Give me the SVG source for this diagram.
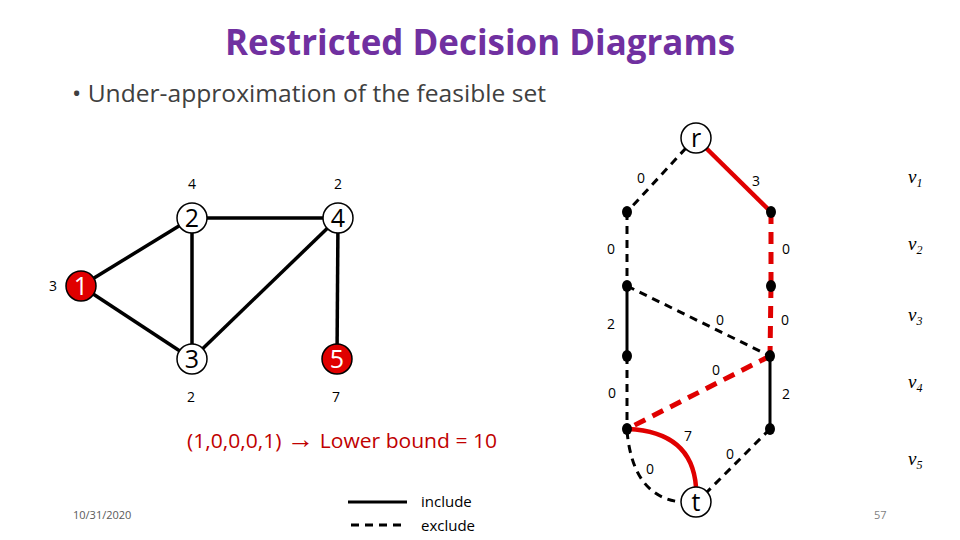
<svg xmlns="http://www.w3.org/2000/svg" width="960" height="540" viewBox="0 0 960 540">
<style>
.t{font-family:"Open Sans","Liberation Sans",sans-serif}
.lbl{font-family:"Open Sans","Liberation Sans",sans-serif;font-size:14px;fill:#000;text-anchor:middle}
.nd{fill:#fff;stroke:#000;stroke-width:1.5}
.nr{fill:#e00000;stroke:#000;stroke-width:1.5}
.nt{font-family:"Open Sans","Liberation Sans",sans-serif;font-size:25px;text-anchor:middle}
.e{stroke:#000;stroke-width:3.5;fill:none}
.sb{stroke:#000;stroke-width:3;fill:none}
.db{stroke:#000;stroke-width:3;fill:none;stroke-dasharray:8 6}
.sr{stroke:#e00000;stroke-width:4.5;fill:none}
.dr{stroke:#e00000;stroke-width:5;fill:none;stroke-dasharray:12 8}
.dot{fill:#000}
.lv{font-family:"Liberation Serif",serif;font-style:italic;font-size:19px}
</style>
<rect width="960" height="540" fill="#fff"/>
<text x="480" y="55" class="t" font-size="36" font-weight="bold" fill="#7030A0" text-anchor="middle" textLength="510" lengthAdjust="spacingAndGlyphs">Restricted Decision Diagrams</text>
<text x="72" y="102" class="t" font-size="23" fill="#404040" textLength="474" lengthAdjust="spacingAndGlyphs">• Under-approximation of the feasible set</text>

<g id="graph-edges">
<line class="e" x1="81" y1="286" x2="192" y2="218"/>
<line class="e" x1="81" y1="286" x2="192" y2="359"/>
<line class="e" x1="192" y1="218" x2="338" y2="218"/>
<line class="e" x1="192" y1="218" x2="192" y2="359"/>
<line class="e" x1="338" y1="218" x2="192" y2="359"/>
<line class="e" x1="338" y1="218" x2="337" y2="359"/>
</g>
<g id="g1"><circle class="nr" cx="81" cy="286" r="15"/><text x="81" y="295" class="nt" fill="#fff">1</text><text x="53" y="291" class="lbl">3</text></g>
<g id="g2"><circle class="nd" cx="192" cy="218" r="15"/><text x="192" y="227" class="nt">2</text><text x="192" y="189" class="lbl">4</text></g>
<g id="g3"><circle class="nd" cx="192" cy="359" r="15"/><text x="192" y="368" class="nt">3</text><text x="191" y="402" class="lbl">2</text></g>
<g id="g4"><circle class="nd" cx="338" cy="218" r="15"/><text x="338" y="227" class="nt">4</text><text x="338" y="189" class="lbl">2</text></g>
<g id="g5"><circle class="nr" cx="337" cy="359" r="15"/><text x="337" y="368" class="nt" fill="#fff">5</text><text x="336" y="402" class="lbl">7</text></g>

<text x="187" y="448" class="t" font-size="20" fill="#C00000" textLength="310" lengthAdjust="spacingAndGlyphs">(1,0,0,0,1) <tspan font-size="26" font-weight="bold">→</tspan> Lower bound = 10</text>

<g id="connectors">
<line class="db" x1="686" y1="148" x2="627" y2="212"/>
<line class="sr" x1="706" y1="148" x2="771" y2="212"/>
<line class="db" x1="627" y1="212" x2="627" y2="286"/>
<line class="dr" x1="771" y1="212" x2="771" y2="286"/>
<line class="sb" x1="627" y1="286" x2="627" y2="356"/>
<line class="db" x1="627" y1="286" x2="770" y2="356"/>
<line class="dr" x1="771" y1="286" x2="770" y2="356"/>
<line class="db" x1="627" y1="356" x2="627" y2="429"/>
<line class="dr" x1="770" y1="356" x2="627" y2="429"/>
<line class="sb" x1="770" y1="356" x2="770" y2="429"/>
<path class="sr" d="M628,429 Q692,432 696,487"/>
<path class="db" d="M627,431 Q633,497 681,502"/>
<line class="db" x1="770" y1="429" x2="707" y2="492"/>
</g>
<g id="edge-labels">
<text x="641" y="183" class="lbl">0</text>
<text x="756" y="186" class="lbl">3</text>
<text x="611" y="254" class="lbl">0</text>
<text x="786" y="254" class="lbl">0</text>
<text x="611" y="329" class="lbl">2</text>
<text x="720" y="325" class="lbl">0</text>
<text x="785" y="325" class="lbl">0</text>
<text x="612" y="398" class="lbl">0</text>
<text x="716" y="375" class="lbl">0</text>
<text x="786" y="399" class="lbl">2</text>
<text x="688" y="441" class="lbl">7</text>
<text x="650" y="474" class="lbl">0</text>
<text x="730" y="459" class="lbl">0</text>
</g>
<g id="r"><circle class="nd" cx="696" cy="138" r="15"/><text x="696" y="147" class="nt">r</text></g>
<g id="t"><circle class="nd" cx="696" cy="502" r="15"/><text x="696" y="511" class="nt">t</text></g>
<g id="dots">
<ellipse class="dot" cx="627" cy="212" rx="5" ry="6"/>
<ellipse class="dot" cx="771" cy="212" rx="5" ry="6"/>
<ellipse class="dot" cx="627" cy="286" rx="5" ry="6"/>
<ellipse class="dot" cx="771" cy="286" rx="5" ry="6"/>
<ellipse class="dot" cx="627" cy="356" rx="5" ry="6"/>
<ellipse class="dot" cx="770" cy="356" rx="5" ry="6"/>
<ellipse class="dot" cx="627" cy="429" rx="5" ry="6"/>
<ellipse class="dot" cx="770" cy="429" rx="5" ry="6"/>
</g>
<g id="levels">
<text x="908" y="183" class="lv">v<tspan font-size="12" dy="4">1</tspan></text>
<text x="908" y="250" class="lv">v<tspan font-size="12" dy="4">2</tspan></text>
<text x="908" y="321" class="lv">v<tspan font-size="12" dy="4">3</tspan></text>
<text x="908" y="388" class="lv">v<tspan font-size="12" dy="4">4</tspan></text>
<text x="908" y="465" class="lv">v<tspan font-size="12" dy="4">5</tspan></text>
</g>
<g id="legend">
<line class="sb" x1="348" y1="502" x2="407" y2="502"/>
<line class="db" x1="351" y1="525" x2="407" y2="525"/>
<text x="421" y="507" class="t" font-size="15">include</text>
<text x="421" y="531" class="t" font-size="15">exclude</text>
</g>
<text x="73" y="519" class="t" font-size="11" fill="#595959">10/31/2020</text>
<text x="874" y="519" class="t" font-size="11" fill="#7f7f7f">57</text>
</svg>
